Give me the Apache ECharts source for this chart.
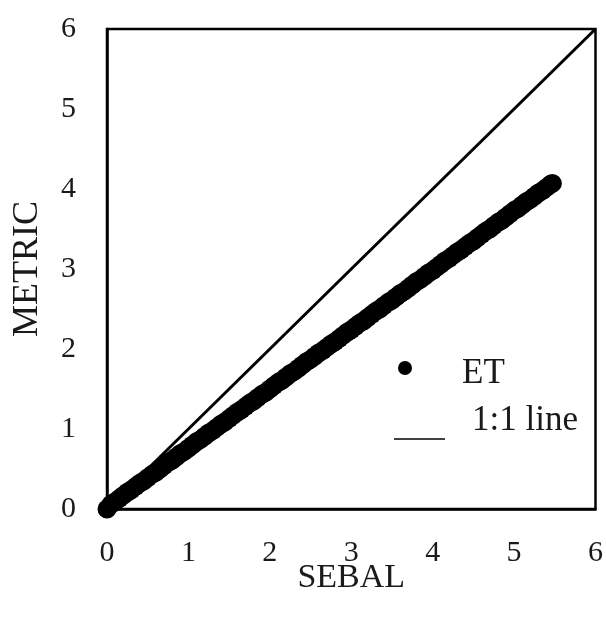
<!DOCTYPE html>
<html><head><meta charset="utf-8">
<script src="https://cdn.jsdelivr.net/npm/echarts@6/dist/echarts.min.js"></script>
<style>html,body{margin:0;padding:0;background:#fff}#c{width:606px;height:621px}</style>
</head><body><div id="c"></div>
<script>
const sebal = [0.00,0.05,0.10,0.15,0.20,0.25,0.30,0.35,0.40,0.45,
  0.50,0.55,0.60,0.65,0.70,0.75,0.80,0.85,0.90,0.95,
  1.00,1.05,1.10,1.15,1.20,1.25,1.30,1.35,1.40,1.45,
  1.50,1.55,1.60,1.65,1.70,1.75,1.80,1.85,1.90,1.95,
  2.00,2.05,2.10,2.15,2.20,2.25,2.30,2.35,2.40,2.45,
  2.50,2.55,2.60,2.65,2.70,2.75,2.80,2.85,2.90,2.95,
  3.00,3.05,3.10,3.15,3.20,3.25,3.30,3.35,3.40,3.45,
  3.50,3.55,3.60,3.65,3.70,3.75,3.80,3.85,3.90,3.95,
  4.00,4.05,4.10,4.15,4.20,4.25,4.30,4.35,4.40,4.45,
  4.50,4.55,4.60,4.65,4.70,4.75,4.80,4.85,4.90,4.95,
  5.00,5.05,5.10,5.15,5.20,5.25,5.30,5.35,5.40,5.45,5.47];
const metric = [0.00,0.06,0.09,0.13,0.17,0.21,0.24,0.28,0.32,0.35,
  0.39,0.43,0.46,0.50,0.54,0.58,0.61,0.65,0.69,0.72,
  0.76,0.80,0.84,0.87,0.91,0.95,0.98,1.02,1.06,1.09,
  1.13,1.17,1.21,1.24,1.28,1.32,1.35,1.39,1.43,1.46,
  1.50,1.54,1.58,1.61,1.65,1.69,1.72,1.76,1.80,1.84,
  1.87,1.91,1.95,1.98,2.02,2.06,2.09,2.13,2.17,2.21,
  2.24,2.28,2.32,2.35,2.39,2.43,2.47,2.50,2.54,2.58,
  2.61,2.65,2.69,2.72,2.76,2.80,2.84,2.87,2.91,2.95,
  2.98,3.02,3.06,3.10,3.13,3.17,3.21,3.24,3.28,3.32,
  3.35,3.39,3.43,3.47,3.50,3.54,3.58,3.61,3.65,3.69,
  3.73,3.76,3.80,3.84,3.87,3.91,3.95,3.98,4.02,4.06,4.07];
const oneToOneX = [0, 6];
const oneToOneY = [0, 6];
const xTicks = [0,1,2,3,4,5,6];
const yTicks = [0,1,2,3,4,5,6];

const font = 'Liberation Serif';
const txt = '#1a1a1a';
const chart = echarts.init(document.getElementById('c'));
chart.setOption({
  animation: false,
  backgroundColor: '#fff',
  grid: {left: 107, top: 29, right: 10, bottom: 112, show: true, borderColor: '#000', borderWidth: 2.5},
  xAxis: {
    type: 'value', min: 0, max: 6, interval: 1,
    name: 'SEBAL', nameLocation: 'middle', nameGap: 52, nameMoveOverlap: false,
    nameTextStyle: {fontFamily: font, fontSize: 34, color: txt},
    axisLine: {show: true, lineStyle: {color: '#000', width: 2.5}},
    axisTick: {show: false}, splitLine: {show: false},
    axisLabel: {fontFamily: font, fontSize: 30, color: txt, margin: 29,
      formatter: v => xTicks.includes(v) ? String(v) : ''}
  },
  yAxis: {
    type: 'value', min: 0, max: 6, interval: 1,
    name: 'METRIC', nameLocation: 'middle', nameGap: 61, nameMoveOverlap: false,
    nameTextStyle: {fontFamily: font, fontSize: 36, color: txt},
    axisLine: {show: true, lineStyle: {color: '#000', width: 2.5}},
    axisTick: {show: false}, splitLine: {show: false},
    axisLabel: {fontFamily: font, fontSize: 30, color: txt, margin: 31,
      formatter: v => yTicks.includes(v) ? String(v) : ''}
  },
  series: [
    {type: 'line', name: '1:1 line', data: oneToOneX.map((x,i)=>[x, oneToOneY[i]]),
      symbol: 'none', lineStyle: {color: '#000', width: 3}, z: 2},
    {type: 'scatter', name: 'ET', data: sebal.map((x,i)=>[x, metric[i]]),
      symbol: 'circle', symbolSize: 19, itemStyle: {color: '#000', opacity: 1, borderWidth: 0}, z: 3}
  ],
  graphic: [
    {type: 'circle', shape: {cx: 405, cy: 368, r: 7}, style: {fill: '#000'}},
    {type: 'text', x: 462, y: 374, style: {text: 'ET', font: '35px "Liberation Serif"', fill: txt, align: 'left', verticalAlign: 'middle'}},
    {type: 'line', shape: {x1: 394, y1: 439, x2: 445, y2: 439}, style: {stroke: '#000', lineWidth: 1.5}},
    {type: 'text', x: 472, y: 421, style: {text: '1:1 line', font: '35px "Liberation Serif"', fill: txt, align: 'left', verticalAlign: 'middle'}}
  ]
});
</script></body></html>
